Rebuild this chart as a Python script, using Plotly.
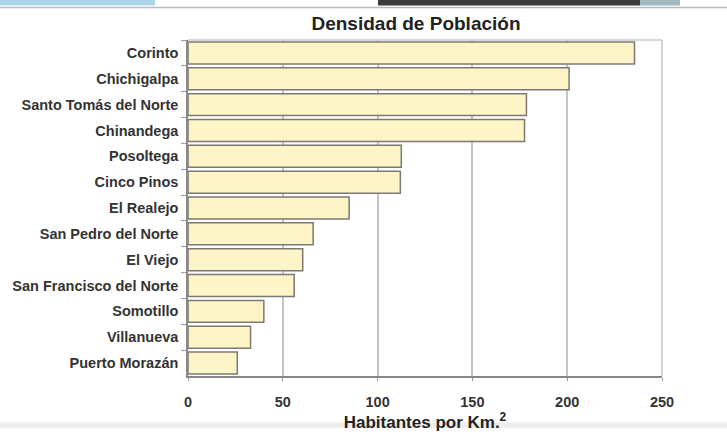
import plotly.graph_objects as go

municipios = [
    "Corinto", "Chichigalpa", "Santo Tomás del Norte", "Chinandega",
    "Posoltega", "Cinco Pinos", "El Realejo", "San Pedro del Norte",
    "El Viejo", "San Francisco del Norte", "Somotillo", "Villanueva",
    "Puerto Morazán",
]
densidad = [235.5, 201, 178.5, 177.5, 112.5, 112, 85, 66, 60.5, 56, 40, 33, 26]
x_ticks = [0, 50, 100, 150, 200, 250]

FONT = "Liberation Sans, Arial, sans-serif"

fig = go.Figure(
    go.Bar(
        x=densidad,
        y=municipios,
        orientation="h",
        marker=dict(color="#fdf4c8", line=dict(color="#7d7873", width=1.5)),
        width=0.85,
    )
)

fig.update_layout(
    width=727,
    height=434,
    margin=dict(l=188, r=65, t=40, b=53),
    paper_bgcolor="white",
    plot_bgcolor="white",
    showlegend=False,
    title=dict(
        text="Densidad de Población",
        x=416 / 727,
        xref="container",
        xanchor="center",
        y=1 - 23 / 434,
        yanchor="middle",
        font=dict(family=FONT, size=19, color="#222", weight="bold"),
    ),
    xaxis=dict(
        range=[0, 250],
        tickvals=x_ticks,
        showgrid=True,
        gridcolor="#c4c4c4",
        gridwidth=1.5,
        zeroline=False,
        showline=True,
        linecolor="#888",
        linewidth=1.5,
        ticks="outside",
        ticklen=3,
        tickcolor="#999",
        ticklabelstandoff=9,
        tickfont=dict(family=FONT, size=14.5, color="#333", weight="bold"),
        title=dict(
            text="Habitantes por Km.<sup>2</sup>",
            font=dict(family=FONT, size=17, color="#222", weight="bold"),
            standoff=0,
        ),
        fixedrange=True,
    ),
    yaxis=dict(
        autorange="reversed",
        showgrid=False,
        zeroline=False,
        showline=True,
        linecolor="#888",
        linewidth=1.5,
        ticks="outside",
        tickson="boundaries",
        ticklen=5,
        tickcolor="#999",
        ticklabelstandoff=5,
        tickfont=dict(family=FONT, size=14.5, color="#333", weight="bold"),
        fixedrange=True,
    ),
    shapes=[
        dict(type="line", xref="paper", yref="paper", x0=0, x1=1, y0=1, y1=1,
             line=dict(color="#c8c8c8", width=1.5)),
        dict(type="line", xref="paper", yref="paper", x0=1, x1=1, y0=0, y1=1,
             line=dict(color="#c8c8c8", width=1.5)),
        dict(type="rect", xref="paper", yref="paper",
             x0=-188 / 474, x1=(155 - 188) / 474, y0=1 + 35 / 341, y1=1 + 41 / 341,
             line=dict(width=0), fillcolor="#a9d6e6", layer="above"),
        dict(type="rect", xref="paper", yref="paper",
             x0=(378 - 188) / 474, x1=(640 - 188) / 474, y0=1 + 35 / 341, y1=1 + 41 / 341,
             line=dict(width=0), fillcolor="#3a3a3a", layer="above"),
        dict(type="rect", xref="paper", yref="paper",
             x0=(640 - 188) / 474, x1=(680 - 188) / 474, y0=1 + 35 / 341, y1=1 + 41 / 341,
             line=dict(width=0), fillcolor="#9fb9c0", layer="above"),
        dict(type="line", xref="paper", yref="paper",
             x0=-188 / 474, x1=(727 - 188) / 474, y0=1 + 33 / 341, y1=1 + 33 / 341,
             line=dict(color="#bbbbbb", width=1.5), layer="above"),
        dict(type="rect", xref="paper", yref="paper",
             x0=-188 / 474, x1=(727 - 188) / 474, y0=-53 / 341, y1=-47 / 341,
             line=dict(width=0), fillcolor="#eeeeee", layer="below"),
    ],
)

fig.write_html(
    "out.html",
    config={"displayModeBar": False},
    post_script="document.body.style.margin='0';document.body.style.overflow='hidden';",
)
